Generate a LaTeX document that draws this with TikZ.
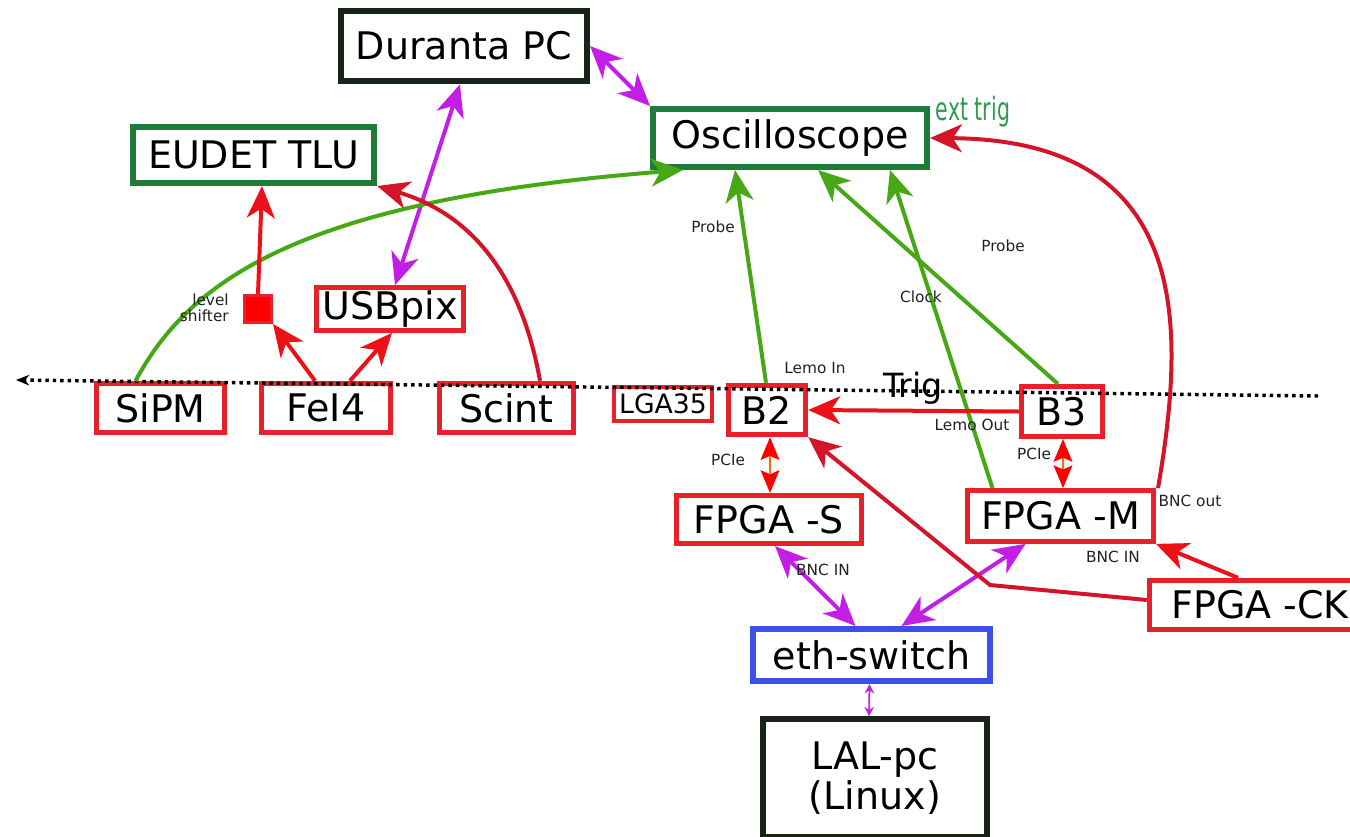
\documentclass[tikz,border=0pt]{standalone}
\usepackage{fontspec}
\setmainfont{DejaVu Sans}
\usepackage{graphicx}
\usetikzlibrary{arrows.meta,calc}
\definecolor{bred}{HTML}{E8202A}
\definecolor{ared}{HTML}{EC1018}
\definecolor{dred}{HTML}{D41428}
\definecolor{gbox}{HTML}{1E7B3A}
\definecolor{garr}{HTML}{46A814}
\definecolor{mag}{HTML}{C21EE6}
\definecolor{bluebx}{HTML}{3A50E6}
\definecolor{dbox}{HTML}{182418}
\definecolor{etg}{HTML}{2E9A4E}
\definecolor{orng}{HTML}{FF6A00}
\definecolor{lgray}{HTML}{222222}
\begin{document}
\begin{tikzpicture}[x=0.75pt,y=-0.75pt,
  box/.style={draw, inner sep=0pt, line width=4.5pt, font={\fontsize{28.5}{30}\selectfont}},
  redbox/.style={box, draw=bred, line width=3.8pt},
  greenbox/.style={box, draw=gbox},
  darkbox/.style={box, draw=dbox},
  bluebox/.style={box, draw=bluebx},
  lbl/.style={font={\fontsize{11.5}{13}\selectfont}, text=lgray, inner sep=0pt},
  con/.style={line width=3pt},
  onearr/.style={con, -{Stealth[length=24pt,width=21pt,inset=7pt]}},
  twoarr/.style={con, {Stealth[length=24pt,width=21pt,inset=7pt]}-{Stealth[length=24pt,width=21pt,inset=7pt]}},
  pcie/.style={line width=1.8pt, draw=orng, {Stealth[length=17pt,width=14pt,inset=3pt,color=red]}-{Stealth[length=17pt,width=14pt,inset=3pt,color=red]}},
  thinmag/.style={line width=1.3pt, draw=mag, {Stealth[length=7pt,width=7pt]}-{Stealth[length=7pt,width=7pt]}}
]
\useasboundingbox (0,0) rectangle (1350,836);

% boxes
\node[darkbox, minimum width=184.5pt, minimum height=53pt] (dpc) at (464,46) {Duranta PC};
\node[greenbox, minimum width=181pt, minimum height=42pt] (tlu) at (253.5,155) {EUDET TLU};
\node[greenbox, minimum width=205.5pt, minimum height=43.5pt] (osc) at (790,138) {Oscilloscope};
\node[redbox, minimum width=110pt, minimum height=32pt] (usb) at (390,309) {USBpix};
\node[draw=bred, fill=red, line width=2.5pt, minimum size=20pt, inner sep=0pt] (lsh) at (258,309) {};
\node[redbox, minimum width=96pt, minimum height=37pt] (sipm) at (160.5,408) {SiPM};
\node[redbox, minimum width=96.5pt, minimum height=37pt] (fel) at (326,408) {FeI4};
\node[redbox, minimum width=100.5pt, minimum height=37pt] (scint) at (506.5,408) {Scint};
\node[redbox, line width=3pt, font={\fontsize{20}{22}\selectfont}, minimum width=73pt, minimum height=26pt] (lga) at (663,404) {LGA35};
\node[redbox, minimum width=58pt, minimum height=37pt] (b2) at (767,410) {B2};
\node[redbox, minimum width=61pt, minimum height=37.5pt] (b3) at (1062,411.5) {B3};
\node[redbox, minimum width=139pt, minimum height=36pt] (fpgas) at (769,519.5) {FPGA -S};
\node[redbox, minimum width=139.5pt, minimum height=38pt] (fpgam) at (1060.5,516) {FPGA -M};
\node[redbox, minimum width=166pt, minimum height=37pt] (fpgack) at (1260,605) {FPGA -CK};
\node[bluebox, minimum width=178pt, minimum height=39pt] (eth) at (871.5,655) {eth-switch};
\node[darkbox, minimum width=168pt, minimum height=88pt, align=center] (lal) at (875,778) {LAL-pc\\(Linux)};

% trigger line
\coordinate (trigR) at (1318,396);
\coordinate (trigL) at (16,380);
\draw[line width=2.6pt, dash pattern=on 2.6pt off 3pt, -{Stealth[length=10pt,width=8pt]}] (trigR) -- (trigL);
\node[font={\fontsize{25}{25}\selectfont}, inner sep=0pt] (trig) at (913,388) {Trig};

% magenta links
\draw[twoarr, draw=mag, fill=mag] (dpc.east) -- (osc.north west);
\draw[twoarr, draw=mag, fill=mag] ($(dpc.south)+(-4,0)$) -- ($(usb.north)+(5,0)$);
\draw[twoarr, draw=mag, fill=mag] ($(fpgas.south)+(6,0)$) -- ($(eth.north)+(-16,0)$);
\draw[twoarr, draw=mag, fill=mag] ($(fpgam.south)+(-35,0)$) -- ($(eth.north)+(30,0)$);
\draw[thinmag] ($(eth.south)+(-2,0)$) -- ($(lal.north)+(-6,0)$);

% green links
\draw[onearr, draw=garr] ($(sipm.north)+(-25,0)$) .. controls (190,280) and (300,200) .. ($(osc.south west)+(33,0)$);
\draw[onearr, draw=garr] ($(b2.north)+(-1,0)$) -- ($(osc.south)+(-55,0)$);
\draw[onearr, draw=garr] ($(b3.north)+(-4,0)$) -- ($(osc.south)+(28,0)$);
\draw[onearr, draw=garr] ($(fpgam.north)+(-68,0)$) -- ($(osc.south)+(100,0)$);

% red links
\draw[onearr, draw=ared] ($(fel.north)+(-11,0)$) -- (lsh.south east);
\draw[onearr, draw=ared] (lsh.north) -- ($(tlu.south)+(8.5,0)$);
\draw[onearr, draw=ared] ($(fel.north)+(24,0)$) -- ($(usb.south)+(2,0)$);
\draw[onearr, draw=dred] ($(scint.north)+(33.5,0)$) .. controls (522,280) and (475,215) .. (tlu.south east);
\draw[onearr, draw=dred] ($(fpgam.north east)+(2,0)$) .. controls (1185,330) and (1195,140) .. (osc.east);
\draw[onearr, draw=ared] (b3.west) -- (b2.east);
\draw[onearr, draw=ared] ($(fpgack.north)+(-22,0)$) -- (fpgam.south east);
\coordinate (bend) at (990,585);
\draw[onearr, draw=dred] ($(fpgack.west)+(0,-5)$) -- (bend) -- (b2.south east);

% PCIe
\draw[pcie] ($(b2.south)+(3,0)$) -- ($(fpgas.north)+(1,0)$);
\draw[pcie] ($(b3.south)+(1,0)$) -- ($(fpgam.north)+(2.5,0)$);

% labels
\node[lbl] (l1) at (713,227) {Probe};
\node[lbl] (l2) at (1003,246) {Probe};
\node[lbl] (l3) at (921,297) {Clock};
\node[lbl] (l4) at (815,368) {Lemo In};
\node[lbl] (l5) at (972,425) {Lemo Out};
\node[lbl] (l6) at (728,460) {PCIe};
\node[lbl] (l7) at (1034,454) {PCIe};
\node[lbl] (l8) at (1190,501) {BNC out};
\node[lbl] (l9) at (1113,557) {BNC IN};
\node[lbl] (l10) at (823,570) {BNC IN};
\node[lbl, font={\fontsize{11.5}{12}\selectfont}, align=right, anchor=east] (l11) at (229,308) {level\\shifter};
\node[inner sep=0pt, text=etg, font={\fontsize{24}{24}\selectfont}] (l12) at (973,112) {\scalebox{0.64}[1]{ext trig}};
\end{tikzpicture}
\end{document}
